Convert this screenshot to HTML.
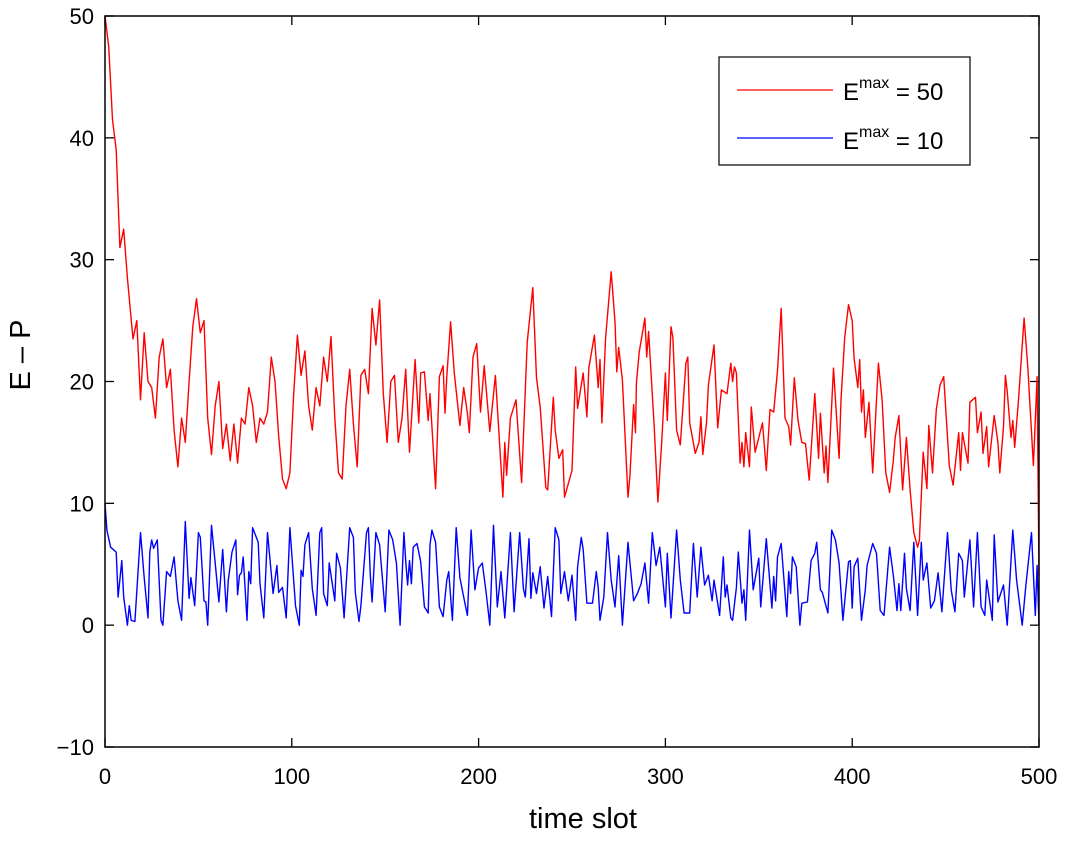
<!DOCTYPE html>
<html><head><meta charset="utf-8"><style>
html,body{margin:0;padding:0;background:#fff;}
svg{display:block;font-family:"Liberation Sans",Arial,sans-serif;}
</style></head><body>
<svg id="chart" width="1065" height="841" viewBox="0 0 1065 841" xmlns="http://www.w3.org/2000/svg">
<rect x="0" y="0" width="1065" height="841" fill="#fff"/>
<g id="ticks"></g>
<g id="series"></g>
<rect x="105" y="16" width="934" height="731" fill="none" stroke="#000" stroke-width="1.5"/>
<text x="583" y="828" font-size="29" text-anchor="middle">time slot</text>
<text transform="translate(30,355) rotate(-90)" font-size="29" text-anchor="middle">E – P</text>
<g>
<rect x="719" y="57" width="251" height="108" fill="#fff" stroke="#000" stroke-width="1.2"/>
<line x1="737" y1="90" x2="833" y2="90" stroke="#f00" stroke-width="1.3"/>
<text x="843" y="100" font-size="24">E<tspan font-size="16" dy="-12">max</tspan><tspan dy="12"> = 50</tspan></text>
<line x1="737" y1="138" x2="833" y2="138" stroke="#00f" stroke-width="1.3"/>
<text x="843" y="149" font-size="24">E<tspan font-size="16" dy="-12">max</tspan><tspan dy="12"> = 10</tspan></text>
</g>
</svg>
<script>
const xTicks=[0,100,200,300,400,500];
const yTicks=[-10,0,10,20,30,40,50];
const redT=[0,2,4,6,8,10,12,15,17,19,21,23,25,27,29,31,33,35,37,39,41,43,45,47,49,51,53,55,57,59,61,63,65,67,69,71,73,75,77,79,81,83,85,87,89,91,93,95,97,99,101,103,105,107,109,111,113,115,117,119,121,123,125,127,129,131,133,135,137,139,141,143,145,147,149,151,153,155,157,159,161,163,166,168,169,171,173,174,177,179,181,182,183,185,187,190,192,194,195,197,199,201,203,206,209,213,214,215,217,220,223,226,229,231,233,236,237,240,241,243,245,246,250,252,253,256,258,259,262,264,265,266,268,271,273,274,275,277,280,281,283,284,284.5,286,289,290,291,294,296,298,300,301,303,304,306,308,311,312,313,316,318,319,320,322,323,326,328,330,333,335,336,337,338,340,341,342,343,345,346,348,350,352,354,356,358,360,362,364,366,367,369,371,373,375,377,380,382,383,385,386,387,390,393,394,396,398,400,401,403,404,405,406,407,409,411,414,416,418,420,422,423,425,427,429,431,433,435,436,438,440,441,443,445,447,449,452,454,457,458,459,462,463,466,467,469,470,472,473,476,478,479,481,482,483,485,486,487,489,492,494,497,499,500];
const redV=[50,47.5,41.5,39,31,32.5,28.5,23.5,25,18.5,24,20,19.5,17,22,23.5,19.5,21,16,13,17,15,20,24.5,26.8,24,25,17,14,18,20,14.5,16.5,13.5,16.5,13.3,17,16.5,19.5,18,15,17,16.5,17.5,22,20,15.5,12,11.2,12.5,19,23.8,20.5,22.5,18,16,19.5,18,22,20,23.7,17,12.5,12,18,21,16.5,13,20.5,21,19,26,23,26.7,19,15,20,20.5,15,17,21,14.2,21.8,16.6,20.7,20.8,16.8,19,11.2,20.4,21.3,17.4,20.4,24.9,20.7,16.4,19.5,17.4,15.8,22,23.1,17.5,21.3,15.9,20.5,10.5,15,12.3,17,18.5,11.7,23.2,27.7,20.3,17.9,11.3,11.1,18.7,16,13.7,14.4,10.5,12.7,21.2,17.8,20.7,17.1,21.1,23.8,19.5,21.8,16.6,23.6,29,24.9,20.8,22.8,20.1,10.5,12.2,18.1,15.8,19.9,22.4,25.2,22,24.1,16.3,10.1,15,20.7,16.8,24.5,23.6,16,14.8,21.5,22,16.6,14.1,15,17.1,14,16.6,19.7,23,16.2,19.3,19,21.5,20,21.2,20.7,13.3,15,13,15.8,13,17.9,14.2,15.4,16.6,12.7,17.7,17.5,20.9,26,17,16.3,14.8,20.3,16.8,15,14.9,11.9,19,13.7,17.4,12.5,14.7,11.7,21.1,13.7,18.5,23.6,26.3,25,21.9,19.5,21.8,17.5,19.3,15.4,18.3,12.5,21.5,18.5,12.5,10.9,13.5,15.4,17.2,11.1,15.4,11.1,7.6,6.4,7,14.2,11.2,16.4,12.5,17.7,19.7,20.4,13.1,11.5,15.8,12.7,15.8,13.3,18.3,18.7,15.8,17.5,14.1,16.3,13,17.2,15,12.5,16.3,20.5,19.2,15.4,16.8,14.6,18.5,25.2,21.2,13.1,20.4,4];
const blueT=[0,1,3,6,7,9,10,12,13,14,16,19,21,23,24,25,26,28,30,31,33,35,37,39,41,43,45,46,48,50,51,53,54,55,57,59,61,63,65,66,68,70,71,72,73,74,76,77,78,79,82,83,85,87,90,92,93,95,97,99,102,104,105,106,107,109,111,113,115,116,117,119,120,123,124,126,128,131,133,134,136,137,140,141,142,143,145,147,150,152,154,156,158,160,161,162,163,164,165,167,169,171,173,174,175,177,179,181,183,184,186,188,190,192,194,196,198,200,202,204,206,208,210,212,214,217,219,222,224,225,227,228,229,231,233,235,237,239,241,243,244,246,248,250,252,253,255,256,258,261,263,264,265,267,269,271,273,275,277,280,283,285,287,289,291,293,295,297,300,301,303,306,308,310,313,315,317,319,321,323,325,326,329,331,332,333,335,336,338,339,341,342,343,345,347,350,351,354,357,358,359,360,362,365,366,367,368,370,372,373,376,378,380,381,383,384,387,389,391,393,395,398,399,400,401,403,405,407,408,411,413,415,417,420,422,424,425,426,428,429,431,433,435,437,438,440,442,444,446,448,451,453,455,457,459,460,463,465,467,469,471,472,475,476,478,481,483,486,488,491,493,496,498,499,500];
const blueV=[10,7.8,6.4,6,2.3,5.3,2.3,0,1.6,0.4,0.3,7.6,3.9,0.6,6,7,6.3,7,0.4,0,4.4,4,5.6,2,0.4,8.5,2.2,3.9,1.6,7.6,7.2,2,1.9,0,8.2,5.1,1.9,6.2,1.1,3.7,6,7,2.5,4.1,4.3,5.6,0.4,4.4,3.4,8,6.8,3.4,0.6,7.6,2.6,4.9,2.7,3.1,0.6,8,1.6,0,4.5,4,6.6,7.6,3,0.8,7.6,8,2.6,1.6,5.1,2,5.9,4.7,0.6,8,7.2,2.7,0.3,1.6,7.6,8,4.1,1.9,7.6,6.6,1.1,7.8,7,5.1,0,7.6,5.3,3.3,5.3,3.4,6.4,6.7,5.2,1.5,1,6.6,7.8,6.8,1.5,0.7,3.7,4.4,0.4,8,3.9,2.3,0.8,7.8,2.9,4.7,5.1,2.7,0,8.2,1.5,4.4,0.6,7.6,1.1,7.6,3,2.3,7.1,2.2,4.3,2.6,4.8,1.4,4,0.7,8,7,2.6,4.4,2,4.1,0.4,4.8,7.2,6.2,1.8,1.8,4.4,3.1,0.4,2.3,7.6,3.7,1.5,5.7,0,6.8,2,2.6,3.4,5.1,1.8,7.6,4.9,6.4,1.5,5.9,0.6,7.8,3.7,1,1,6.7,2.3,6.4,3.3,4.1,2,3.7,0.8,5.6,2.3,3.3,0.6,0.4,3.1,6,1.8,2.9,0.4,7.8,2.9,5.5,1.5,7.1,1.4,4,2,5.6,6.7,0.7,4.4,2.6,5.6,4.8,0,1.8,1.9,5.3,5.9,6.8,2.9,2.7,1,7.8,7,5.1,0.4,5.2,5.3,1.4,4.8,5.5,0.4,2.9,4.9,6.7,5.9,1.2,0.8,6.4,4.1,1.2,3.4,1.2,5.9,3,1.2,6.8,0.8,6.8,3.7,5.1,1.4,2,4.3,1.1,7.6,2.9,1.1,5.9,5.3,2.3,7,1.5,7.6,1.5,0.8,3.7,0.4,7.4,1.9,3.3,0,7.8,3.7,0,3.3,7.6,0.8,4.9,0];

const X0=105,X1=1039,Y0=747,Y1=16;
const xScale=t=>X0+(t-0)/(500-0)*(X1-X0);
const yScale=v=>Y0-(v-(-10))/(50-(-10))*(Y0-Y1);
const NS="http://www.w3.org/2000/svg";
const tg=document.getElementById('ticks');
const sg=document.getElementById('series');
xTicks.forEach(t=>{
  const x=xScale(t);
  [[Y0,Y0-9],[Y1,Y1+9]].forEach(p=>{
    const l=document.createElementNS(NS,'line');
    
    
    l.setAttribute('x1',x);l.setAttribute('x2',x);l.setAttribute('y1',p[0]);l.setAttribute('y2',p[1]);
    l.setAttribute('stroke','#000');l.setAttribute('stroke-width','1.3');
    tg.appendChild(l);
  });
  const tx=document.createElementNS(NS,'text');
  
  
  tx.setAttribute('x',x);tx.setAttribute('y',784);tx.setAttribute('font-size','22');tx.setAttribute('text-anchor','middle');
  tx.textContent=t;tg.appendChild(tx);
});
yTicks.forEach(v=>{
  const y=yScale(v);
  [[X0,X0+9],[X1,X1-9]].forEach(p=>{
    const l=document.createElementNS(NS,'line');
    
    
    l.setAttribute('x1',p[0]);l.setAttribute('x2',p[1]);l.setAttribute('y1',y);l.setAttribute('y2',y);
    l.setAttribute('stroke','#000');l.setAttribute('stroke-width','1.3');
    tg.appendChild(l);
  });
  const tx=document.createElementNS(NS,'text');
  
  
  tx.setAttribute('x',94);tx.setAttribute('y',y+8);tx.setAttribute('font-size','22');tx.setAttribute('text-anchor','end');
  tx.textContent=(v<0?'\u2212'+Math.abs(v):v);tg.appendChild(tx);
});
function drawLine(ts,vs,color,name){
  const p=document.createElementNS(NS,'polyline');
  
  
  p.setAttribute('points',ts.map((t,i)=>xScale(t).toFixed(1)+','+yScale(vs[i]).toFixed(1)).join(' '));
  p.setAttribute('fill','none');p.setAttribute('stroke',color);p.setAttribute('stroke-width','1.4');
  p.setAttribute('stroke-linejoin','round');
  sg.appendChild(p);
}
drawLine(blueT,blueV,'#00f','series-emax10-line');
drawLine(redT,redV,'#f00','series-emax50-line');
</script>
</body></html>
